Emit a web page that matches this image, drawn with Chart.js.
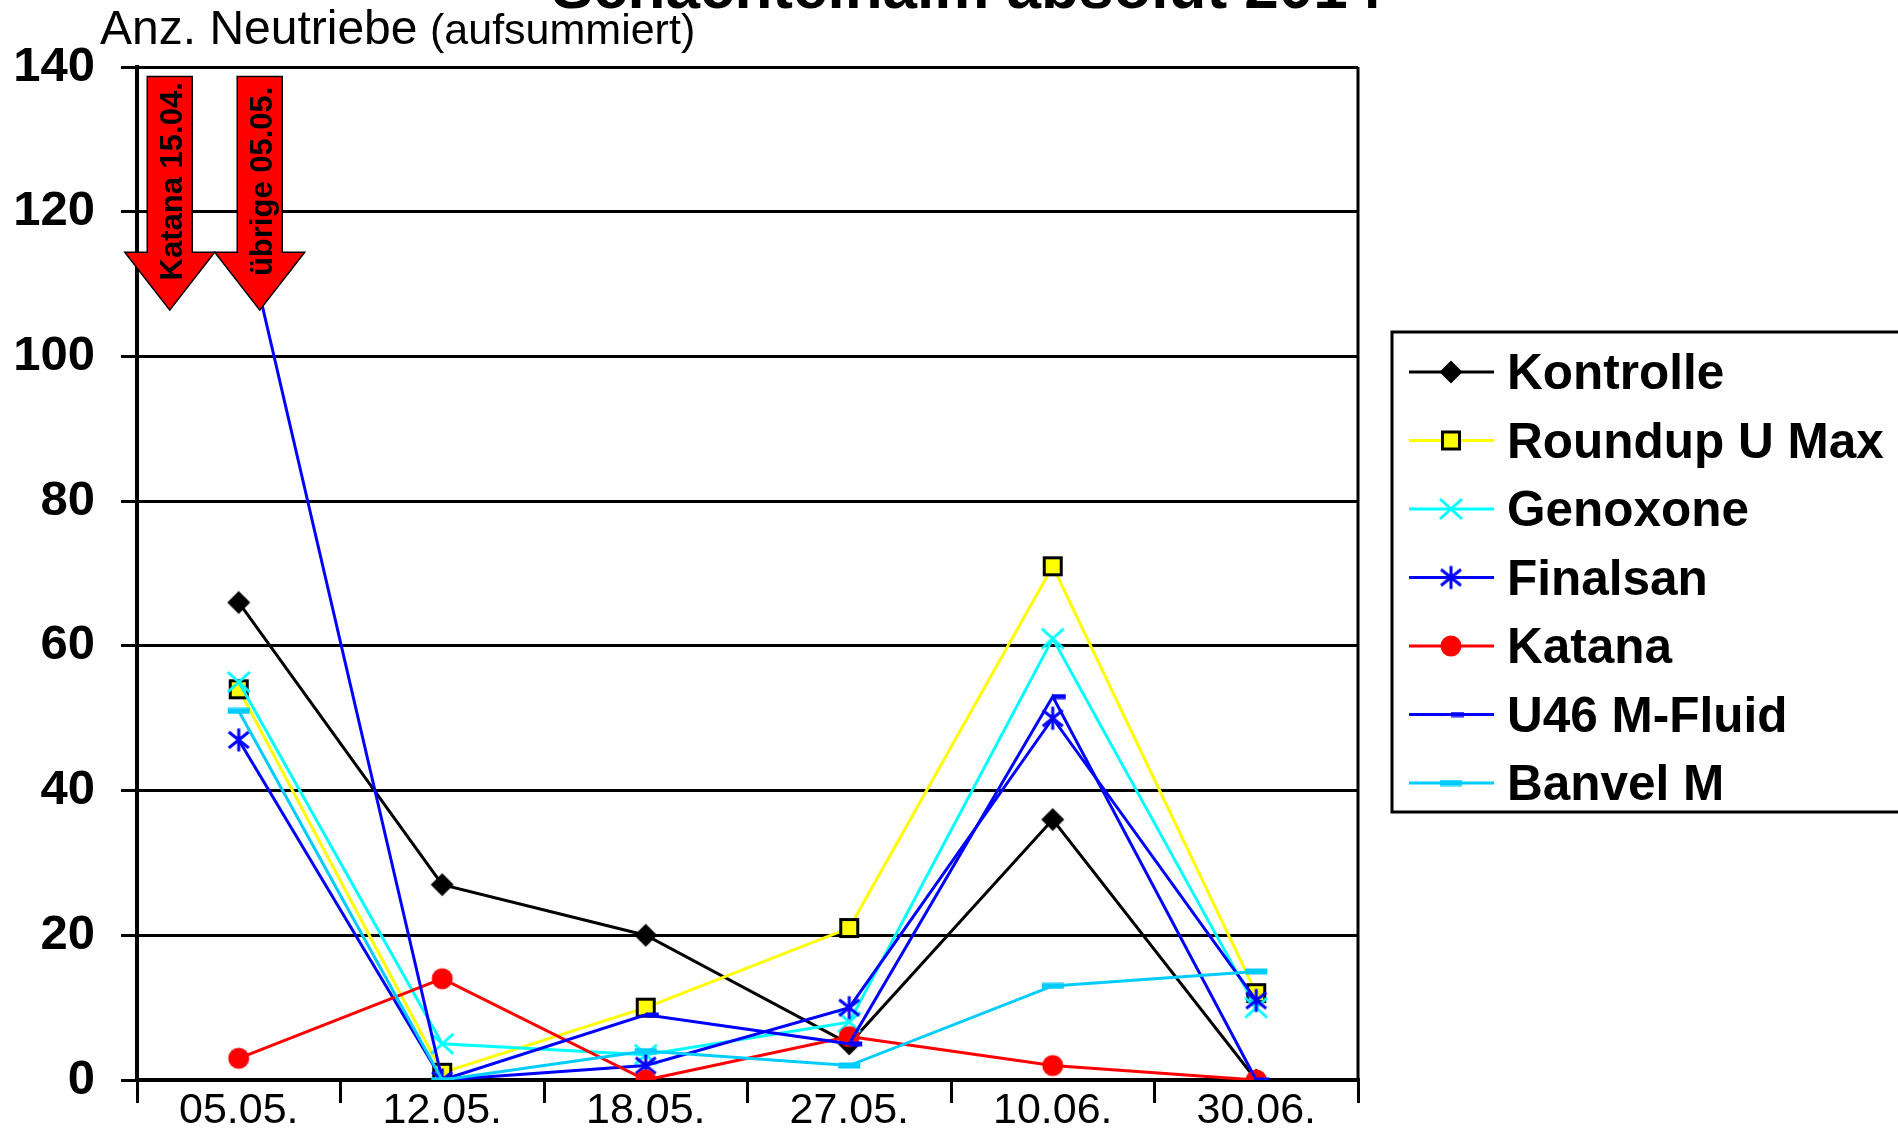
<!DOCTYPE html>
<html>
<head>
<meta charset="utf-8">
<script src="https://cdn.jsdelivr.net/npm/chart.js@4.4.1/dist/chart.umd.min.js"></script>
<style>
    html, body { margin: 0; padding: 0; background: #fff; }
    canvas { display: block; }
</style>
</head>
<body>
<canvas id="chart" width="1898" height="1129"></canvas>
<script>
// values
const dates = ["05.05.", "12.05.", "18.05.", "27.05.", "10.06.", "30.06."];
const kontrolle = [66, 27, 20, 5, 36, 0];
const roundup = [54, 1, 10, 21, 71, 12];
const genoxone = [55, 5, 3.5, 8, 61, 10];
const finalsan = [47, 0, 2, 10, 50, 11];
const katana = [3, 14, 0, 6, 2, 0];
const u46 = [121, 0, 9, 5, 53, 0];
const banvel = [51, 0, 4, 2, 13, 15];
const yMin = 0, yMax = 140, yStep = 20;

const titleText = "Schachtelhalm absolut 2014";
const yTitle = "Anz. Neutriebe";
const yTitleSmall = "(aufsummiert)";
const arrows = [
    { label: "Katana 15.04.", dx: -69 },
    { label: "übrige 05.05.", dx: 21 }
];

const FONT = "'Liberation Sans', Arial, sans-serif";

function marker(w, h, draw) {
    const c = document.createElement("canvas");
    c.width = w;
    c.height = h;
    draw(c.getContext("2d"), w, h);
    return c;
}

const mkDiamond = marker(26, 26, (ctx) => {
    ctx.fillStyle = "#000";
    ctx.beginPath();
    ctx.moveTo(13, 1.5); ctx.lineTo(24.5, 13); ctx.lineTo(13, 24.5); ctx.lineTo(1.5, 13);
    ctx.closePath();
    ctx.fill();
});
const mkSquare = marker(22, 22, (ctx) => {
    ctx.fillStyle = "#ffff00";
    ctx.fillRect(2, 2, 18, 18);
    ctx.strokeStyle = "#000";
    ctx.lineWidth = 3;
    ctx.strokeRect(2.5, 2.5, 17, 17);
});
const mkX = marker(26, 24, (ctx) => {
    ctx.strokeStyle = "#00ffff";
    ctx.lineWidth = 3;
    ctx.beginPath();
    ctx.moveTo(2, 2); ctx.lineTo(24, 22);
    ctx.moveTo(24, 2); ctx.lineTo(2, 22);
    ctx.stroke();
});
const mkStar = marker(26, 26, (ctx) => {
    ctx.strokeStyle = "#0000ff";
    ctx.lineWidth = 3;
    ctx.beginPath();
    ctx.moveTo(3, 5); ctx.lineTo(23, 21);
    ctx.moveTo(23, 5); ctx.lineTo(3, 21);
    ctx.moveTo(13, 1.5); ctx.lineTo(13, 24.5);
    ctx.stroke();
});
const mkCircle = marker(24, 24, (ctx) => {
    ctx.fillStyle = "#ff0000";
    ctx.beginPath();
    ctx.arc(12, 12, 10.5, 0, Math.PI * 2);
    ctx.fill();
});
const mkDashRight = marker(28, 6, (ctx) => {
    ctx.fillStyle = "#0000ff";
    ctx.fillRect(14, 0.5, 13, 5);
});
const mkDash = marker(24, 7, (ctx) => {
    ctx.fillStyle = "#00ccff";
    ctx.fillRect(1, 0.5, 22, 6);
});

function series(label, data, color, style, i) {
    return {
        label: label,
        data: data,
        borderColor: color,
        backgroundColor: color,
        borderWidth: 3,
        pointStyle: style,
        pointRadius: 11,
        pointHoverRadius: 11,
        tension: 0,
        fill: false,
        order: -i
    };
}

const datasets = [
    series("Kontrolle", kontrolle, "#000000", mkDiamond, 0),
    series("Roundup U Max", roundup, "#ffff00", mkSquare, 1),
    series("Genoxone", genoxone, "#00ffff", mkX, 2),
    series("Finalsan", finalsan, "#0000ff", mkStar, 3),
    series("Katana", katana, "#ff0000", mkCircle, 4),
    series("U46 M-Fluid", u46, "#0000ff", mkDashRight, 5),
    series("Banvel M", banvel, "#00ccff", mkDash, 6)
];

const decorPlugin = {
    id: "decor",
    afterDatasetsDraw(chart) {
        const ctx = chart.ctx;
        const area = chart.chartArea;
        const x = chart.scales.x, y = chart.scales.y;

        // right frame line
        ctx.save();
        ctx.strokeStyle = "#000";
        ctx.lineWidth = 3;
        ctx.beginPath();
        ctx.moveTo(area.right, area.top);
        ctx.lineTo(area.right, area.bottom);
        ctx.stroke();
        ctx.restore();

        // red arrows above first date
        const x0 = x.getPixelForValue(0);
        const yTop = y.getPixelForValue(138.7);
        const yShaft = y.getPixelForValue(114.4);
        const yTip = y.getPixelForValue(106.4);
        arrows.forEach((a) => {
            const cx = x0 + a.dx;
            ctx.save();
            ctx.fillStyle = "#ff0000";
            ctx.strokeStyle = "#000";
            ctx.lineWidth = 1.5;
            ctx.beginPath();
            ctx.moveTo(cx - 22.5, yTop);
            ctx.lineTo(cx + 22.5, yTop);
            ctx.lineTo(cx + 22.5, yShaft);
            ctx.lineTo(cx + 45, yShaft);
            ctx.lineTo(cx, yTip);
            ctx.lineTo(cx - 45, yShaft);
            ctx.lineTo(cx - 22.5, yShaft);
            ctx.closePath();
            ctx.fill();
            ctx.stroke();
            ctx.translate(cx, (yTop + yShaft) / 2 + 17);
            ctx.rotate(-Math.PI / 2);
            ctx.fillStyle = "#000";
            ctx.font = "bold 31px " + FONT;
            ctx.textAlign = "center";
            ctx.textBaseline = "alphabetic";
            ctx.fillText(a.label, 0, 12);
            ctx.restore();
        });
    },
    afterDraw(chart) {
        const ctx = chart.ctx;
        ctx.save();
        ctx.fillStyle = "#000";
        ctx.textBaseline = "alphabetic";

        // title, mostly cut off at the top
        ctx.font = "bold 62px " + FONT;
        ctx.textAlign = "center";
        ctx.fillText(titleText, 967, 8);

        // y axis title
        ctx.textAlign = "left";
        ctx.font = "48px " + FONT;
        ctx.fillText(yTitle, 100, 44);
        ctx.font = "43px " + FONT;
        ctx.fillText(yTitleSmall, 430, 44);

        // legend
        const lx = 1392, ly = 332, rowH = 68.5;
        ctx.strokeStyle = "#000";
        ctx.lineWidth = 3;
        ctx.strokeRect(lx, ly, 600, 480);
        ctx.font = "bold 49.5px " + FONT;
        chart.data.datasets.forEach((ds, i) => {
            const ry = 372 + i * rowH;
            ctx.strokeStyle = ds.borderColor;
            ctx.lineWidth = 3;
            ctx.beginPath();
            ctx.moveTo(1409, ry);
            ctx.lineTo(1494, ry);
            ctx.stroke();
            const img = ds.pointStyle;
            ctx.drawImage(img, 1451 - img.width / 2, ry - img.height / 2);
            ctx.fillStyle = "#000";
            ctx.fillText(ds.label, 1507, ry + 17);
        });
        ctx.restore();
    }
};

new Chart(document.getElementById("chart"), {
    type: "line",
    data: { labels: dates, datasets: datasets },
    options: {
        responsive: false,
        animation: false,
        events: [],
        layout: { padding: { left: 0, right: 540, top: 67, bottom: 0 } },
        plugins: {
            legend: { display: false },
            tooltip: { enabled: false },
            title: { display: false }
        },
        scales: {
            x: {
                type: "category",
                offset: true,
                grid: {
                    offset: true,
                    drawOnChartArea: false,
                    drawTicks: true,
                    tickLength: 23,
                    color: "#000",
                    lineWidth: 3
                },
                border: { display: true, color: "#000", width: 4 },
                ticks: {
                    color: "#000",
                    font: { family: FONT, size: 43 },
                    padding: -18,
                    maxRotation: 0,
                    autoSkip: false
                },
                afterFit: (s) => { s.height = 49; }
            },
            y: {
                min: yMin,
                max: yMax,
                grid: {
                    color: "#000",
                    lineWidth: 3,
                    drawTicks: true,
                    tickLength: 16
                },
                border: { display: true, color: "#000", width: 4 },
                ticks: {
                    stepSize: yStep,
                    color: "#000",
                    font: { family: FONT, size: 49, weight: "bold" },
                    padding: 26
                },
                afterFit: (s) => {
                    s.width = 137;
                    s.paddingTop = 0;
                    s.paddingBottom = 0;
                }
            }
        }
    },
    plugins: [decorPlugin]
});
</script>
</body>
</html>
